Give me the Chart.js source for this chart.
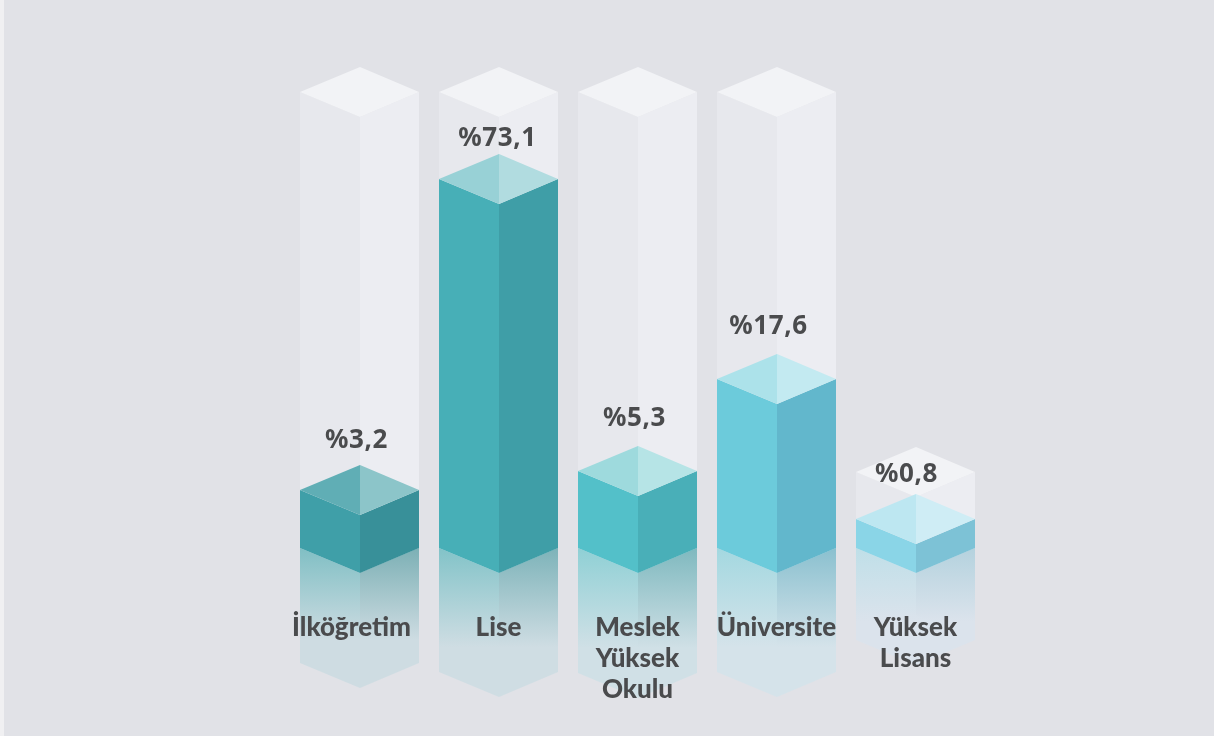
<!DOCTYPE html>
<html lang="tr">
<head>
<meta charset="utf-8">
<style>
html,body{margin:0;padding:0;background:#e1e2e7;overflow:hidden}
#strip{position:absolute;left:0;top:0;width:4px;height:736px;background:#f0f0f2}
#wrap{position:absolute;left:0;top:0;width:1214px;height:736px}
</style>
<script src="https://cdn.jsdelivr.net/npm/chart.js@4/dist/chart.umd.js"></script>
</head>
<body>
<div id="strip"></div>
<div id="wrap"><canvas id="c" width="1214" height="736"></canvas></div>
<script>
const categories = [["İlköğretim"], ["Lise"], ["Meslek", "Yüksek", "Okulu"], ["Üniversite"], ["Yüksek", "Lisans"]];
const percentValues = [3.2, 73.1, 5.3, 17.6, 0.8];
const ghostValues = [100, 100, 100, 100, 5.2];
const valueLabels = ["%3,2", "%73,1", "%5,3", "%17,6", "%0,8"];

// The source infographic's value axis is not linear: value -> drawn height in the plot
const axisValues = [0, 0.8, 3.2, 5.3, 17.6, 73.1, 100];
const axisHeights = [0, 29, 58, 77, 169, 369, 456];

const leftFaces = ["#3f9fa8", "#47afb7", "#53c0c9", "#6ccbdb", "#8ad5e7"];
const rightFaces = ["#389099", "#3f9ea7", "#49afb8", "#62b7cc", "#7dc2d6"];
const topLeftFaces = ["#60aeb5", "#98d1d6", "#9edadd", "#ace2ea", "#bde7f1"];
const topRightFaces = ["#8cc5c9", "#b1dce0", "#b6e4e6", "#c3eaf1", "#cfedf5"];
const reflectLeftStart = ["#80bfc4", "#82c3c8", "#8fd0d5", "#a3d8e0", "#bfdfe8"];
const reflectRightStart = ["#7cb0b5", "#7db3b9", "#7fb9bf", "#8ac0cf", "#b4d2de"];
const reflectEnd = ["#cedce2", "#cfdde3", "#d0e0e6", "#d5e3ea", "#dbe3ec"];
const reflectDepth = [115, 124, 125, 124, 92];
const ghost = {left:"#e7e8ed", right:"#ecedf2", topL:"#f2f3f6", topR:"#f2f3f6"};

function interp(v, xs, ys){
  for(let i=1;i<xs.length;i++){
    if(v<=xs[i]) return ys[i-1]+(ys[i]-ys[i-1])*(v-xs[i-1])/(xs[i]-xs[i-1]);
  }
  return ys[ys.length-1];
}
class AnchoredScale extends Chart.LinearScale{
  getPixelForValue(v){
    return this.bottom-(this.bottom-this.top)*interp(v,axisValues,axisHeights)/axisHeights[axisHeights.length-1];
  }
}
AnchoredScale.id="anchored";
AnchoredScale.defaults=Chart.LinearScale.defaults;
Chart.register(AnchoredScale);

const RISE=25;
function poly(ctx,pts,fill){
  ctx.beginPath();
  pts.forEach((p,i)=>i?ctx.lineTo(p[0],p[1]):ctx.moveTo(p[0],p[1]));
  ctx.closePath();ctx.fillStyle=fill;ctx.fill();
}
function prism(ctx,el,st){
  const mid=el.x+0.5,l=el.x-el.width/2,r=el.x+el.width/2,t=el.y,b=el.base;
  poly(ctx,[[l,t],[mid,t+RISE],[mid,b+RISE],[l,b]],st.left);
  poly(ctx,[[mid,t+RISE],[r,t],[r,b],[mid,b+RISE]],st.right);
  poly(ctx,[[l,t],[mid,t-RISE],[mid,t+RISE]],st.topL);
  poly(ctx,[[mid,t-RISE],[r,t],[mid,t+RISE]],st.topR);
}
function reflection(ctx,el,i){
  const mid=el.x+0.5,l=el.x-el.width/2,r=el.x+el.width/2,b=el.base,d=reflectDepth[i];
  const g=(c)=>{const k=ctx.createLinearGradient(0,b,0,b+d*0.8);k.addColorStop(0,c);k.addColorStop(1,reflectEnd[i]);return k;};
  poly(ctx,[[l,b],[mid,b+RISE],[r,b],[r,b+d],[mid,b+d+RISE],[l,b+d]],g(reflectLeftStart[i]));
  poly(ctx,[[mid,b+RISE],[r,b],[r,b+d],[mid,b+d-RISE]],g(reflectRightStart[i]));
}
const prismPlugin={
  id:"prism",
  beforeDatasetDraw(chart,args){
    const ctx=chart.ctx;
    ctx.save();
    args.meta.data.forEach((el,i)=>{
      if(args.index===1){prism(ctx,el,ghost);}
      else{
        reflection(ctx,el,i);
        prism(ctx,el,{left:leftFaces[i],right:rightFaces[i],topL:topLeftFaces[i],topR:topRightFaces[i]});
      }
    });
    ctx.restore();
    return false;
  }
};
const valueLabelPlugin={
  id:"valueLabel",
  afterDatasetsDraw(chart){
    const ctx=chart.ctx,nudge=[[-3,-49],[-1,-40],[-3,-52],[-8,-52],[-9,-44]];
    ctx.save();
    ctx.letterSpacing="0.6px";
    ctx.font="bold 26px 'Noto Sans'";ctx.fillStyle="#4a4b4d";ctx.textAlign="center";ctx.textBaseline="middle";
    chart.getDatasetMeta(0).data.forEach((el,i)=>{
      ctx.fillText(valueLabels[i],el.x+nudge[i][0],el.y+nudge[i][1]);
    });
    ctx.restore();
  }
};
new Chart(document.getElementById("c"),{
  type:"bar",
  data:{labels:categories,datasets:[
    {label:"Oran",data:percentValues,grouped:false,barThickness:119,backgroundColor:leftFaces},
    {label:"Tam",data:ghostValues,grouped:false,barThickness:119,backgroundColor:ghost.left}
  ]},
  plugins:[prismPlugin,valueLabelPlugin],
  options:{
    responsive:false,animation:false,
    layout:{padding:{left:290,right:229,top:92,bottom:0}},
    plugins:{legend:{display:false},tooltip:{enabled:false}},
    scales:{
      y:{type:"anchored",min:0,max:100,display:false},
      x:{
        border:{display:false},
        grid:{display:false,drawTicks:false},
        ticks:{z:1,color:"#4a4b4d",font:{family:"Lato",size:26,weight:"900",lineHeight:1.19},padding:64,maxRotation:0,autoSkip:false},
        afterFit(s){
          s.height=188;
          if(!s._nudged){
            s._nudged=true;
            const orig=s._computeLabelItems;
            s._computeLabelItems=function(ca){
              const items=orig.call(this,ca);
              if(items[0]) items[0].options.translation[0]-=8;
              return items;
            };
          }
        }
      }
    }
  }
});
</script>
</body>
</html>
